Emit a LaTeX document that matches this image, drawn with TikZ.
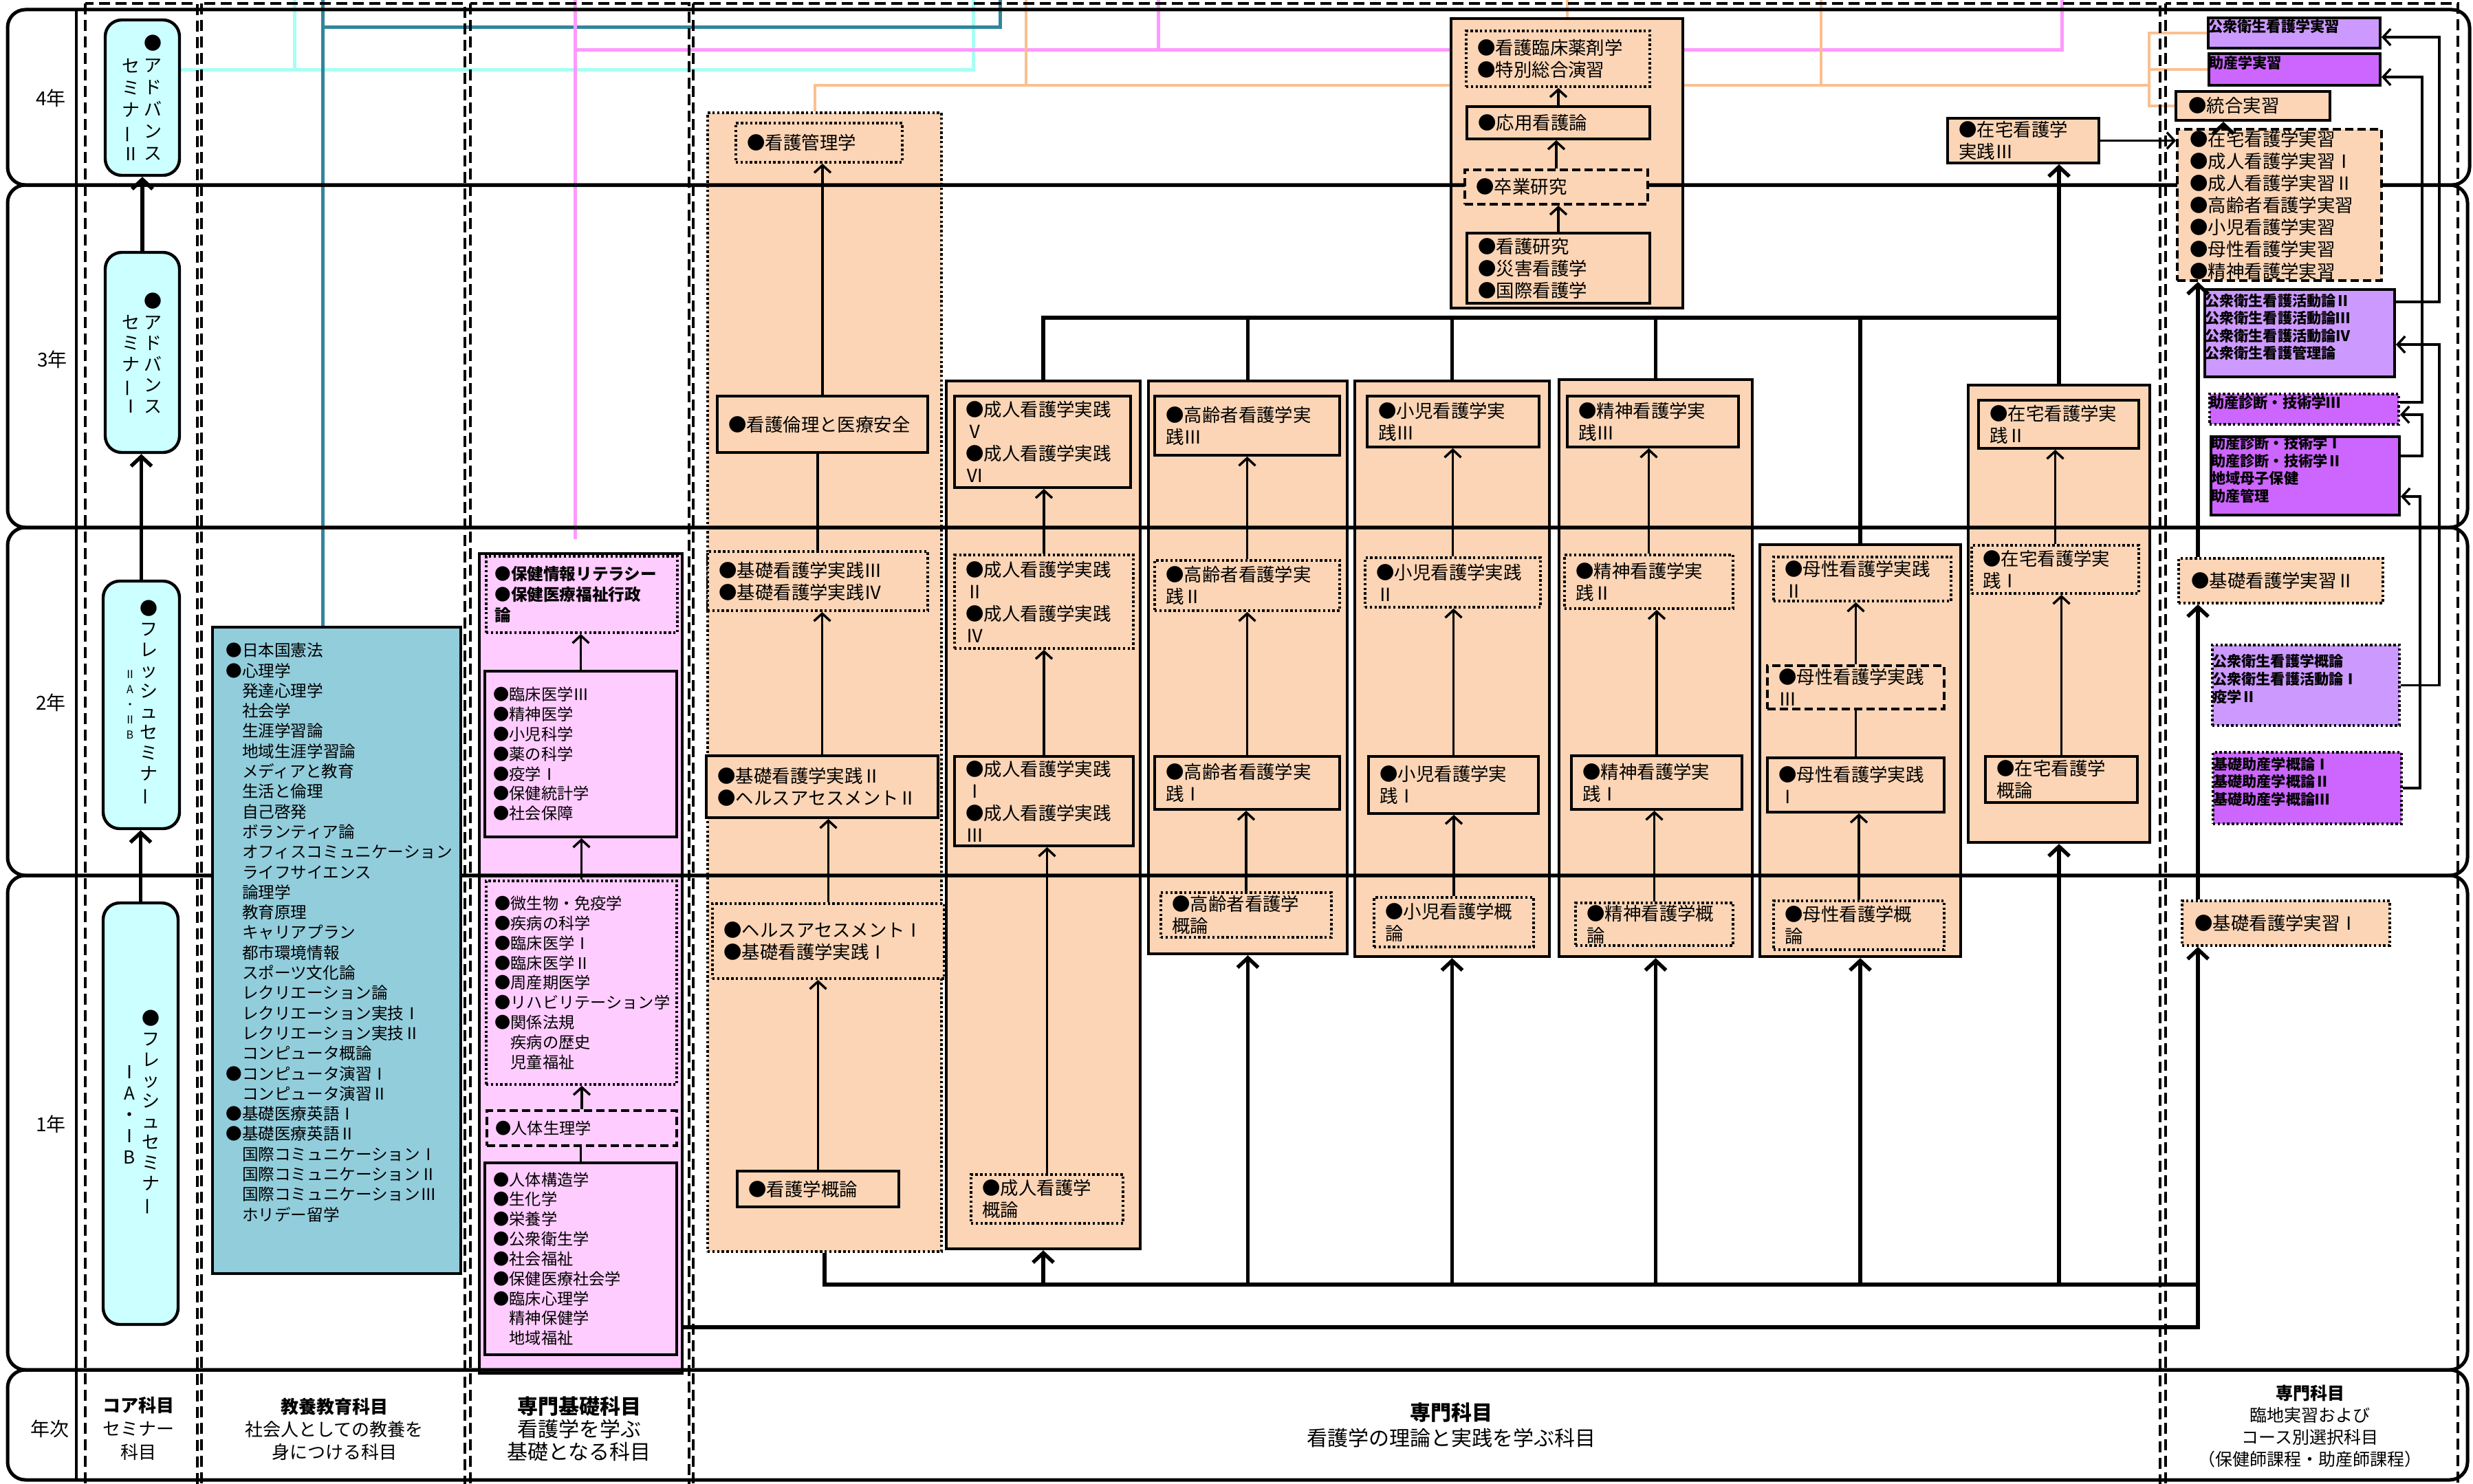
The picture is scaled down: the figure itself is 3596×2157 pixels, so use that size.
\documentclass[tikz,border=0pt]{standalone}
\usepackage{fontspec}
\setmainfont{Noto Sans CJK JP}
\usepackage{graphicx}
\usetikzlibrary{arrows.meta,fit}
\definecolor{cyanbox}{HTML}{CCFFFF}
\definecolor{kyoyoc}{HTML}{92CDDC}
\definecolor{pinkbox}{HTML}{FFCCFF}
\definecolor{peach}{HTML}{FBD5B5}
\definecolor{lav}{HTML}{CC99FF}
\definecolor{purp}{HTML}{CC66FF}
\definecolor{cyanline}{HTML}{A6FFF2}
\definecolor{tealline}{HTML}{31869B}
\definecolor{pinkline}{HTML}{FF99FF}
\definecolor{orline}{HTML}{FAC090}
\pgfdeclarelayer{lw}
\pgfdeclarelayer{lz}
\pgfdeclarelayer{lo}
\pgfdeclarelayer{lb}
\pgfsetlayers{lw,lz,lo,lb,main}
\newcommand\vbar{\rotatebox[origin=c]{90}{ー}}
\newcommand\nbox[5][txt]{%
  \node[#2, fit={#3}] (#4) {};
  \node[#1, anchor=west] (#4-t) at ([xshift=9pt]#4.west) {#5};}
\tikzset{
  obox/.style={draw, line width=2.2pt, fill=peach, inner sep=0pt},
  ibox/.style={draw, line width=1.9pt, fill=peach, inner sep=0pt},
  dotbox/.style={ibox, dash pattern=on 1.7pt off 1.7pt},
  dashbox/.style={ibox, dash pattern=on 6pt off 3pt},
  pibox/.style={ibox, fill=pinkbox},
  pidot/.style={dotbox, fill=pinkbox},
  pidash/.style={dashbox, fill=pinkbox},
  lavbox/.style={ibox, fill=lav},
  lavdot/.style={dotbox, fill=lav},
  purbox/.style={ibox, fill=purp},
  purdot/.style={dotbox, fill=purp},
  sembox/.style={draw, line width=2.2pt, fill=cyanbox, rounded corners=12pt, inner sep=0pt},
  txt/.style={inner sep=0pt, align=left, font=\fontsize{13.2}{16}\selectfont},
  stxt/.style={txt, xshift=-2pt, font=\fontsize{11.6}{14.4}\selectfont},
  sbtxt/.style={txt, xshift=-2pt, font=\bfseries\fontsize{11.8}{15}\selectfont},
  ktxt/.style={txt, font=\fontsize{11.8}{14.65}\selectfont},
  jtxt/.style={txt, xshift=1pt, font=\fontsize{13.2}{16}\selectfont},
  ptxt/.style={align=left, font=\bfseries\fontsize{10.6}{12.8}\selectfont},
  vt/.style={align=center, inner sep=0pt, font=\fontsize{13}{16}\selectfont},
  yl/.style={inner sep=0pt, font=\fontsize{14}{16}\selectfont},
  band/.style={draw, line width=2.5pt, rounded corners=13pt},
  colbox/.style={draw, line width=1.7pt, dash pattern=on 8pt off 4pt},
  arr/.style={-{Straight Barb[length=5.5pt,width=12pt]}, line width=1.7pt},
  tarr/.style={-{Straight Barb[length=7pt,width=15pt]}, line width=2.7pt},
  lnk/.style={line width=1.7pt},
  tlnk/.style={line width=2.7pt},
  cyanl/.style={draw=cyanline, line width=2.5pt},
  teall/.style={draw=tealline, line width=2.5pt},
  pinkl/.style={draw=pinkline, line width=2.5pt},
  orl/.style={draw=orline, line width=1.7pt},
}
\begin{document}
\begin{tikzpicture}[x=0.5pt,y=-0.5pt]
\useasboundingbox (0,0) rectangle (3596,2157);
\begin{pgfonlayer}{lw}
\fill[white] (0,0) rectangle (3596,2157);
\end{pgfonlayer}

% ---------- outer column boxes ----------
\begin{pgfonlayer}{lo}
\node[obox, line width=1.7pt, dash pattern=on 1.7pt off 1.7pt, fit={(1029,164)(1369,1820)}] (kiso) {};
\node[obox, fit={(1376,554)(1658,1816)}] (seijin) {};
\node[obox, fit={(1670,554)(1959,1387)}] (koreisha) {};
\node[obox, fit={(1970,554)(2253,1391)}] (shoni) {};
\node[obox, fit={(2267,552)(2548,1391)}] (seishin) {};
\node[obox, fit={(2559,792)(2851,1391)}] (bosei) {};
\node[obox, fit={(2862,560)(3126,1225)}] (zaitaku) {};
\node[obox, fit={(2110,27)(2447,448)}] (y4) {};
\node[draw, line width=2.2pt, fill=pinkbox, inner sep=0pt, fit={(697,805)(992,1997)}] (senkiso) {};
\end{pgfonlayer}

% ---------- bands and columns ----------
\begin{pgfonlayer}{lb}
\draw[band] (11,14) rectangle (3591,269);
\draw[band] (11,269) rectangle (3588,767);
\draw[band] (11,767) rectangle (3588,1273);
\draw[band] (11,1273) rectangle (3588,1992);
\draw[band] (11,1992) rectangle (3588,2152);
\draw[line width=2.2pt] (111,14) -- (111,2152);
\draw[colbox] (124,5) rectangle (287,2200);
\draw[colbox] (293,5) rectangle (676,2200);
\draw[colbox] (684,5) rectangle (1002,2200);
\draw[colbox] (1008,5) rectangle (3141,2200);
\draw[colbox] (3149,5) rectangle (3574,2200);
\end{pgfonlayer}

% ---------- year labels ----------
\node[yl] (yl4) at (74,143) {4年};
\node[yl] (yl3) at (76,523) {3年};
\node[yl] (yl2) at (74,1022) {2年};
\node[yl] (yl1) at (74,1635) {1年};

% ---------- core seminar column ----------
\node[sembox, fit={(153,29)(261,255)}] (adv2) {};
\node[sembox, fit={(153,367)(261,658)}] (adv1) {};
\node[sembox, fit={(150,845)(261,1205)}] (fr2) {};
\node[sembox, fit={(150,1313)(259,1926)}] (fr1) {};
\node[vt] (adv2r) at (222,142.5) {●\\ア\\ド\\バ\\ン\\ス};
\node[vt] (adv2l) at (190,159.5) {セ\\ミ\\ナ\\\vbar\\Ⅱ};
\node[vt, font=\fontsize{13}{15.3}\selectfont] (adv1r) at (222,513.5) {●\\ア\\ド\\バ\\ン\\ス};
\node[vt, font=\fontsize{13}{15.3}\selectfont] (adv1l) at (190,529.5) {セ\\ミ\\ナ\\\vbar\\Ⅰ};
\node[vt, font=\fontsize{13}{15}\selectfont] (fr2r) at (216,1022.5) {●\\フ\\レ\\ッ\\シ\\ュ\\セ\\ミ\\ナ\\\vbar};
\node[vt, font=\fontsize{8}{11}\selectfont] (fr2l) at (189,1025) {Ⅱ\\A\\・\\Ⅱ\\B};
\node[vt, font=\fontsize{13}{15}\selectfont] (fr1r) at (219,1618.5) {●\\フ\\レ\\ッ\\シ\\ュ\\セ\\ミ\\ナ\\\vbar};
\node[vt, font=\fontsize{13}{15.5}\selectfont] (fr1l) at (188,1621) {Ⅰ\\A\\・\\Ⅰ\\B};
\draw[tarr] (fr1.north) -- (fr1.north |- fr2.south);
\draw[tarr] (fr2.north) -- (fr2.north |- adv1.south);
\draw[tarr] (adv1.north) -- (adv1.north |- adv2.south);

% ---------- liberal arts ----------
\node[draw, line width=2.2pt, fill=kyoyoc, inner sep=0pt, fit={(309,912)(670,1852)}] (kyoyo) {};
\node[ktxt, anchor=west] (kyoyot) at (328,1356) {●日本国憲法\\●心理学\\　発達心理学\\　社会学\\　生涯学習論\\　地域生涯学習論\\　メディアと教育\\　生活と倫理\\　自己啓発\\　ボランティア論\\　オフィスコミュニケーション\\　ライフサイエンス\\　論理学\\　教育原理\\　キャリアプラン\\　都市環境情報\\　スポーツ文化論\\　レクリエーション論\\　レクリエーション実技Ⅰ\\　レクリエーション実技Ⅱ\\　コンピュータ概論\\●コンピュータ演習Ⅰ\\　コンピュータ演習Ⅱ\\●基礎医療英語Ⅰ\\●基礎医療英語Ⅱ\\　国際コミュニケーションⅠ\\　国際コミュニケーションⅡ\\　国際コミュニケーションⅢ\\　ホリデー留学};

% ---------- specialised basics ----------
\nbox[sbtxt]{pidot}{(707,809)(985,920)}{kb1}{●保健情報リテラシー\\●保健医療福祉行政\\論}
\nbox[stxt]{pibox}{(705,976)(984,1217)}{kb2}{●臨床医学Ⅲ\\●精神医学\\●小児科学\\●薬の科学\\●疫学Ⅰ\\●保健統計学\\●社会保障}
\nbox[stxt]{pidot}{(707,1281)(984,1577)}{kb3}{●微生物・免疫学\\●疾病の科学\\●臨床医学Ⅰ\\●臨床医学Ⅱ\\●周産期医学\\●リハビリテーション学\\●関係法規\\　疾病の歴史\\　児童福祉}
\nbox[stxt]{pidash}{(708,1615)(984,1666)}{kb4}{●人体生理学}
\nbox[stxt]{pibox}{(705,1691)(984,1970)}{kb5}{●人体構造学\\●生化学\\●栄養学\\●公衆衛生学\\●社会福祉\\●保健医療社会学\\●臨床心理学\\　精神保健学\\　地域福祉}
\draw[lnk] (kb5.north) -- (kb5.north |- kb4.south);
\draw[arr] (kb4.north) -- (kb4.north |- kb3.south);
\draw[arr] (kb3.north) -- (kb3.north |- kb2.south);
\draw[arr] (kb2.north) -- (kb2.north |- kb1.south);

% ---------- basic nursing ----------
\nbox{dotbox}{(1070,179)(1312,236)}{kkanri}{●看護管理学}
\nbox{ibox}{(1043,576)(1349,658)}{krinri}{●看護倫理と医療安全}
\nbox{dotbox}{(1029,802)(1349,888)}{kj34}{●基礎看護学実践Ⅲ\\●基礎看護学実践Ⅳ}
\nbox{ibox}{(1027,1099)(1364,1189)}{kj2b}{●基礎看護学実践Ⅱ\\●ヘルスアセスメントⅡ}
\nbox{dotbox}{(1036,1314)(1373,1423)}{kh1}{●ヘルスアセスメントⅠ\\●基礎看護学実践Ⅰ}
\nbox{ibox}{(1072,1703)(1307,1755)}{kgai}{●看護学概論}
\draw[arr] (kgai.north) -- (kgai.north |- kh1.south);
\draw[arr] (kh1.north) -- (kh1.north |- kj2b.south);
\draw[arr] (kj2b.north) -- (kj2b.north |- kj34.south);
\draw[lnk] (kj34.north) -- (kj34.north |- krinri.south);
\draw[arr] (krinri.north) -- (krinri.north |- kkanri.south);

% ---------- adult ----------
\nbox{ibox}{(1388,576)(1644,709)}{s56}{●成人看護学実践\\Ⅴ\\●成人看護学実践\\Ⅵ}
\nbox{dotbox}{(1388,807)(1648,943)}{s24}{●成人看護学実践\\Ⅱ\\●成人看護学実践\\Ⅳ}
\nbox{ibox}{(1388,1100)(1648,1230)}{s13}{●成人看護学実践\\Ⅰ\\●成人看護学実践\\Ⅲ}
\nbox{dotbox}{(1412,1708)(1633,1779)}{sgai}{●成人看護学\\概論}
\draw[arr] (sgai.north) -- (sgai.north |- s13.south);
\draw[arr] (s13.north) -- (s13.north |- s24.south);
\draw[arr] (s24.north) -- (s24.north |- s56.south);

% ---------- elderly ----------
\nbox{ibox}{(1679,576)(1948,662)}{r3}{●高齢者看護学実\\践Ⅲ}
\nbox{dotbox}{(1679,815)(1948,888)}{r2}{●高齢者看護学実\\践Ⅱ}
\nbox{ibox}{(1679,1100)(1948,1177)}{r1}{●高齢者看護学実\\践Ⅰ}
\nbox{dotbox}{(1688,1298)(1936,1363)}{rgai}{●高齢者看護学\\概論}
\draw[arr] (rgai.north) -- (rgai.north |- r1.south);
\draw[arr] (r1.north) -- (r1.north |- r2.south);
\draw[arr] (r2.north) -- (r2.north |- r3.south);

% ---------- children ----------
\nbox{ibox}{(1988,576)(2238,650)}{c3}{●小児看護学実\\践Ⅲ}
\nbox{dotbox}{(1985,811)(2240,883)}{c2}{●小児看護学実践\\Ⅱ}
\nbox{ibox}{(1990,1100)(2237,1183)}{c1}{●小児看護学実\\践Ⅰ}
\nbox{dotbox}{(1998,1305)(2230,1377)}{cgai}{●小児看護学概\\論}
\draw[arr] (cgai.north) -- (cgai.north |- c1.south);
\draw[arr] (c1.north) -- (c1.north |- c2.south);
\draw[arr] (c2.north) -- (c2.north |- c3.south);

% ---------- psychiatric ----------
\nbox{ibox}{(2279,576)(2528,650)}{m3}{●精神看護学実\\践Ⅲ}
\nbox{dotbox}{(2275,807)(2520,885)}{m2}{●精神看護学実\\践Ⅱ}
\nbox{ibox}{(2285,1099)(2533,1177)}{m1}{●精神看護学実\\践Ⅰ}
\nbox{dotbox}{(2291,1313)(2520,1375)}{mgai}{●精神看護学概\\論}
\draw[arr] (mgai.north) -- (mgai.north |- m1.south);
\draw[arr] (m1.north) -- (m1.north |- m2.south);
\draw[arr] (m2.north) -- (m2.north |- m3.south);

% ---------- maternal ----------
\nbox{dotbox}{(2579,810)(2837,874)}{b2}{●母性看護学実践\\Ⅱ}
\nbox{dashbox}{(2570,968)(2827,1031)}{b3}{●母性看護学実践\\Ⅲ}
\nbox{ibox}{(2570,1102)(2827,1181)}{b1}{●母性看護学実践\\Ⅰ}
\nbox{dotbox}{(2579,1310)(2827,1381)}{bgai}{●母性看護学概\\論}
\draw[arr] (bgai.north) -- (bgai.north |- b1.south);
\draw[lnk] (b1.north) -- (b1.north |- b3.south);
\draw[arr] (b3.north) -- (b3.north |- b2.south);

% ---------- home care ----------
\nbox{ibox}{(2877,582)(3110,652)}{z2}{●在宅看護学実\\践Ⅱ}
\nbox{dotbox}{(2867,793)(3110,863)}{z1}{●在宅看護学実\\践Ⅰ}
\nbox{ibox}{(2887,1100)(3108,1167)}{zgai}{●在宅看護学\\概論}
\nbox{ibox}{(2832,172)(3052,237)}{z3}{●在宅看護学\\実践Ⅲ}
\draw[arr] (zgai.north) -- (zgai.north |- z1.south);
\draw[arr] (z1.north) -- (z1.north |- z2.south);

% ---------- 4th year block ----------
\nbox{dotbox}{(2132,45)(2399,126)}{y4a}{●看護臨床薬剤学\\●特別総合演習}
\nbox{ibox}{(2133,155)(2399,202)}{y4b}{●応用看護論}
\nbox{dashbox}{(2130,247)(2396,297)}{y4c}{●卒業研究}
\nbox{ibox}{(2133,339)(2399,441)}{y4d}{●看護研究\\●災害看護学\\●国際看護学}
\draw[arr] (y4d.north) -- (y4d.north |- y4c.south);
\draw[arr] (y4c.north) -- (y4c.north |- y4b.south);
\draw[arr] (y4b.north) -- (y4b.north |- y4a.south);

% ---------- practicum column ----------
\node[lavbox, fit={(3211,26)(3461,70)}, ptxt] (pj) {公衆衛生看護学実習};
\node[purbox, fit={(3212,78)(3461,124)}, ptxt] (jj) {助産学実習};
\nbox[jtxt]{ibox}{(3164,133)(3388,175)}{tougou}{●統合実習}
\nbox[jtxt]{dashbox}{(3166,188)(3463,408)}{jisshu}{●在宅看護学実習\\●成人看護学実習Ⅰ\\●成人看護学実習Ⅱ\\●高齢者看護学実習\\●小児看護学実習\\●母性看護学実習\\●精神看護学実習}
\node[lavbox, fit={(3206,421)(3482,548)}, ptxt] (katsudo) {公衆衛生看護活動論Ⅱ\\公衆衛生看護活動論Ⅲ\\公衆衛生看護活動論Ⅳ\\公衆衛生看護管理論};
\node[purdot, fit={(3213,573)(3488,617)}, ptxt] (shindan3) {助産診断・技術学Ⅲ};
\node[purbox, fit={(3215,635)(3489,749)}, ptxt] (shindan12) {助産診断・技術学Ⅰ\\助産診断・技術学Ⅱ\\地域母子保健\\助産管理};
\nbox[jtxt]{dotbox}{(3168,812)(3465,877)}{kjs2}{●基礎看護学実習Ⅱ}
\node[lavdot, fit={(3217,938)(3489,1055)}, ptxt] (pgai) {公衆衛生看護学概論\\公衆衛生看護活動論Ⅰ\\疫学Ⅱ};
\node[purdot, fit={(3218,1094)(3492,1198)}, ptxt] (jgai) {基礎助産学概論Ⅰ\\基礎助産学概論Ⅱ\\基礎助産学概論Ⅲ};
\nbox[jtxt]{dotbox}{(3173,1310)(3475,1375)}{kjs1}{●基礎看護学実習Ⅰ}

\coordinate (ra) at (3547,501);
\coordinate (rb) at (3547,439);
\coordinate (rc) at (3547,54);
\coordinate (rd) at (3519,722);
\coordinate (re) at (3522,663);
\coordinate (rf) at (3522,603);
\coordinate (rg) at (3522,585);
\coordinate (rh) at (3522,112);
\draw[arr] (pgai.east) -| (ra) -- (ra -| katsudo.east);
\draw[arr] (katsudo.east |- rb) -- (rb) -- (rc) -- (rc -| pj.east);
\draw[arr] (jgai.east) -| (rd) -- (rd -| shindan12.east);
\draw[arr] (shindan12.east |- re) -- (re) -- (rf) -- (rf -| shindan3.east);
\draw[arr] (shindan3.east |- rg) -- (rg) -- (rh) -- (rh -| jj.east);
\coordinate (tg) at (3233,188);
\draw[tarr] (tg) -- (tg |- tougou.south);
\draw[arr] (z3.east) -- (jisshu.west |- z3.east);

% ---------- cross-column connectors ----------
\coordinate (j3) at (0,462);
\draw[tlnk] (seijin.north) -- (seijin.north |- j3) -- (zaitaku.north |- j3);
\draw[tlnk] (koreisha.north) -- (koreisha.north |- j3);
\draw[tlnk] (shoni.north) -- (shoni.north |- j3);
\draw[tlnk] (seishin.north) -- (seishin.north |- j3);
\draw[tlnk] (bosei.north) -- (bosei.north |- j3);
\draw[tarr] (zaitaku.north) -- (zaitaku.north |- z3.south);

\coordinate (j1) at (0,1868);
\coordinate (kv) at (3196,1930);
\draw[tlnk] (kiso.south) -- (kiso.south |- j1) -- (kv |- j1);
\draw[tarr] (seijin.south |- j1) -- (seijin.south);
\draw[tarr] (koreisha.south |- j1) -- (koreisha.south);
\draw[tarr] (shoni.south |- j1) -- (shoni.south);
\draw[tarr] (seishin.south |- j1) -- (seishin.south);
\draw[tarr] (bosei.south |- j1) -- (bosei.south);
\draw[tarr] (zaitaku.south |- j1) -- (zaitaku.south);
\draw[tarr] (senkiso.east |- kv) -- (kv) -- (kv |- kjs1.south);
\draw[tarr] (kv |- kjs1.north) -- (kv |- kjs2.south);
\draw[tarr] (kv |- kjs2.north) -- (kv |- jisshu.south);

% ---------- footer ----------
\node[font=\fontsize{14}{16}\selectfont] (nenji) at (72,2078) {年次};
\node[align=center, font=\fontsize{13}{17}\selectfont] (ft1) at (201,2077) {\textbf{コア科目}\\セミナー\\科目};
\node[align=center, font=\fontsize{13}{16.5}\selectfont] (ft2) at (486,2078) {\textbf{教養教育科目}\\社会人としての教養を\\身につける科目};
\node[align=center, font=\fontsize{15}{16.5}\selectfont] (ft3) at (842,2078) {\textbf{専門基礎科目}\\看護学を学ぶ\\基礎となる科目};
\node[align=center, font=\fontsize{15}{18.5}\selectfont] (ft4) at (2110,2072) {\textbf{専門科目}\\看護学の理論と実践を学ぶ科目};
\node[align=center, font=\fontsize{12.5}{16}\selectfont] (ft5) at (3359,2074) {\textbf{専門科目}\\臨地実習および\\コース別選択科目\\（保健師課程・助産師課程）};

% ---------- coloured lines from above ----------
\begin{pgfonlayer}{lz}
\coordinate (topy) at (0,0);
\coordinate (cyA) at (428,102);
\coordinate (cyB) at (1415,102);
\draw[cyanl] (adv2.east |- cyA) -- (cyB) -- (cyB |- topy);
\draw[cyanl] (cyA) -- (cyA |- topy);
\coordinate (tA) at (469,40);
\coordinate (tB) at (1454,40);
\draw[teall] (tA |- kyoyo.north) -- (tA |- topy);
\draw[teall] (tA) -- (tB) -- (tB |- topy);
\coordinate (pA) at (836,73);
\coordinate (pB) at (2998,73);
\coordinate (pC) at (1684,73);
\coordinate (pD) at (836,784);
\draw[pinkl] (pD) -- (pA |- topy);
\draw[pinkl] (pA) -- (pB) -- (pB |- topy);
\draw[pinkl] (pC) -- (pC |- topy);
\coordinate (oA) at (1185,124);
\coordinate (oB) at (3125,124);
\coordinate (oC) at (1492,124);
\coordinate (oD) at (2648,124);
\coordinate (oE) at (2279,124);
\draw[orl] (kiso.north -| oA) -- (oA) -- (oB);
\draw[orl] (oC) -- (oC |- topy);
\draw[orl] (oD) -- (oD |- topy);
\draw[orl] (y4.north -| oE) -- (oE |- topy);
\draw[orl] (pj.west) -- (oB |- pj.west) -- (oB |- tougou.west) -- (tougou.west);
\draw[orl] (oB |- jj.west) -- (jj.west);
\end{pgfonlayer}
\end{tikzpicture}
\end{document}
